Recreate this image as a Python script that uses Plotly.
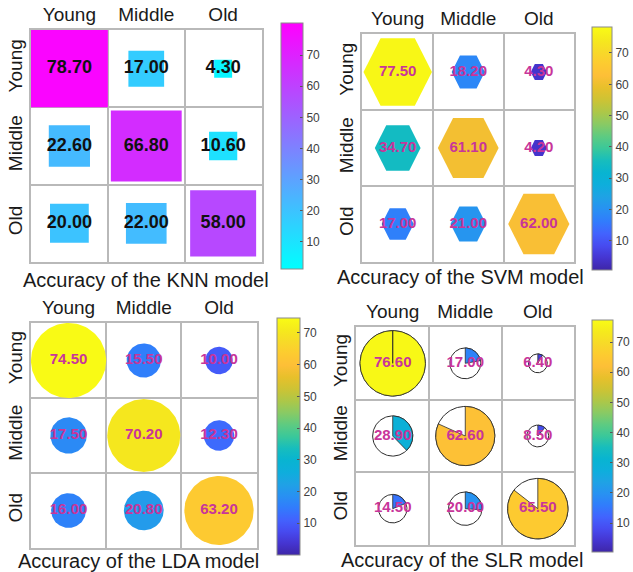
import numpy as np
import plotly.graph_objects as go
from plotly.colors import sample_colorscale

# ---- data -------------------------------------------------------------
classes = ["Young", "Middle", "Old"]

knn_acc = [[78.70, 17.00, 4.30],
           [22.60, 66.80, 10.60],
           [20.00, 22.00, 58.00]]
svm_acc = [[77.50, 18.20, 4.30],
           [34.70, 61.10, 4.20],
           [17.00, 21.00, 62.00]]
lda_acc = [[74.50, 15.50, 10.00],
           [17.50, 70.20, 12.30],
           [16.00, 20.80, 63.20]]
slr_acc = [[76.60, 17.00, 6.40],
           [28.90, 62.60, 8.50],
           [14.50, 20.00, 65.50]]

model_names = ["KNN", "SVM", "LDA", "SLR"]
colour_limits = [(1.3, 80.3), (0.7, 78.3), (0.0, 74.7), (0.4, 77.3)]
colorbar_ticks = [10, 20, 30, 40, 50, 60, 70]

# ---- colour maps ------------------------------------------------------
cool = [[0.0, "rgb(0,255,255)"], [1.0, "rgb(255,0,255)"]]
_parula_rgb = [
    (0.2422, 0.1504, 0.6603), (0.2691, 0.2089, 0.8204), (0.2795, 0.2942, 0.9401),
    (0.2575, 0.3886, 0.9946), (0.1918, 0.4877, 0.9872), (0.1588, 0.5674, 0.9477),
    (0.1231, 0.6337, 0.8968), (0.0561, 0.6818, 0.8647), (0.0300, 0.7050, 0.8200),
    (0.0900, 0.7400, 0.7400), (0.2278, 0.7826, 0.6047), (0.3667, 0.7980, 0.5048),
    (0.5380, 0.7916, 0.3910), (0.6787, 0.7791, 0.2819), (0.8020, 0.7653, 0.2022),
    (0.9058, 0.7548, 0.1690), (0.9914, 0.7507, 0.2146), (0.9932, 0.7961, 0.1901),
    (0.9678, 0.8565, 0.1567), (0.9589, 0.9175, 0.1080), (0.9769, 0.9839, 0.0805),
]
parula = [[i / (len(_parula_rgb) - 1),
           "rgb(%d,%d,%d)" % tuple(round(255 * c) for c in rgb)]
          for i, rgb in enumerate(_parula_rgb)]

W, H = 633, 572
FONT = "Liberation Sans, Arial, sans-serif"
GRID = "#b9b9b9"
NUM_MAGENTA = "#c8359a"

# layout of each panel in pixels: grid box, colour bar box, title centre
panels = [
    dict(z=knn_acc, shape="square", cmap=cool, tcol="#111111", tsize=18,
         box=(31, 262, 30, 262), cbar=(281, 303, 23, 269), title=(146, 280)),
    dict(z=svm_acc, shape="hexagon", cmap=parula, tcol=NUM_MAGENTA, tsize=15,
         box=(363, 575, 34, 262), cbar=(592, 612, 27, 270), title=(461, 277)),
    dict(z=lda_acc, shape="circle", cmap=parula, tcol=NUM_MAGENTA, tsize=15,
         box=(31, 257, 323, 548), cbar=(277, 300, 318, 555), title=(139, 561)),
    dict(z=slr_acc, shape="pie", cmap=parula, tcol=NUM_MAGENTA, tsize=15,
         box=(357, 575, 327, 545), cbar=(592, 613, 320, 552), title=(463, 560)),
]


def colour_of(v, cmap, lo, hi):
    t = min(max((v - lo) / (hi - lo), 0.0), 1.0)
    return sample_colorscale(cmap, [t])[0]


def outline(kind, cx, cy, s):
    """Closed outline of a glyph of relative size s centred on a cell."""
    if kind == "square":
        h = 0.5 * s
        return ([cx - h, cx + h, cx + h, cx - h, cx - h],
                [cy - h, cy - h, cy + h, cy + h, cy - h])
    if kind == "hexagon":
        a = np.deg2rad(np.arange(0, 361, 60))
        return cx + 0.485 * s * np.cos(a), cy + 0.514 * s * np.sin(a)
    r = 0.5 * s if kind == "circle" else 0.45 * s
    a = np.linspace(0, 2 * np.pi, 121)
    return cx + r * np.cos(a), cy + r * np.sin(a)


fig = go.Figure()
layout = dict(width=W, height=H, margin=dict(l=0, r=0, t=0, b=0),
              paper_bgcolor="white", plot_bgcolor="white",
              showlegend=False, font=dict(family=FONT, color="#1a1a1a"),
              annotations=[])

for k, (p, name, (lo, hi)) in enumerate(zip(panels, model_names, colour_limits)):
    idx = "" if k == 0 else str(k + 1)
    xa, ya = "x" + idx, "y" + idx
    x0, x1, y0, y1 = p["box"]
    z = np.array(p["z"], dtype=float)
    zmax = z.max()

    axis_common = dict(tickmode="array", tickvals=[1, 2, 3], ticktext=classes,
                       ticks="", showgrid=False, zeroline=False,
                       showline=True, mirror=True, linecolor=GRID, linewidth=1.5,
                       tickfont=dict(size=19, color="#1a1a1a", family=FONT),
                       minor=dict(tickmode="array", tickvals=[1.5, 2.5],
                                  showgrid=True, gridcolor=GRID, gridwidth=1.5,
                                  ticks=""),
                       fixedrange=True)
    layout["xaxis" + idx] = dict(axis_common, domain=[x0 / W, x1 / W],
                                 range=[0.5, 3.5], side="top", anchor=ya)
    layout["yaxis" + idx] = dict(axis_common, domain=[1 - y1 / H, 1 - y0 / H],
                                 range=[3.5, 0.5], tickangle=-90, anchor=xa)

    for i in range(3):
        for j in range(3):
            v = z[i, j]
            cx, cy = j + 1, i + 1
            s = np.sqrt(v / zmax)
            col = colour_of(v, p["cmap"], lo, hi)
            ox, oy = outline(p["shape"], cx, cy, s)
            if p["shape"] == "pie":
                # white disc with a dark rim, then the wedge v/max from 12 o'clock
                fig.add_trace(go.Scatter(
                    x=ox, y=oy, xaxis=xa, yaxis=ya, mode="lines",
                    fill="toself", fillcolor="white",
                    line=dict(color="#2b2b2b", width=1), hoverinfo="skip"))
                r = 0.45 * s
                t = np.linspace(0, 2 * np.pi * v / zmax, 121)
                wx = np.concatenate([[cx], cx + r * np.sin(t), [cx]])
                wy = np.concatenate([[cy], cy - r * np.cos(t), [cy]])
                fig.add_trace(go.Scatter(
                    x=wx, y=wy, xaxis=xa, yaxis=ya, mode="lines",
                    fill="toself", fillcolor=col,
                    line=dict(color="#2b2b2b", width=0.8), hoverinfo="skip"))
            else:
                fig.add_trace(go.Scatter(
                    x=ox, y=oy, xaxis=xa, yaxis=ya, mode="lines",
                    fill="toself", fillcolor=col,
                    line=dict(color=col, width=0), hoverinfo="skip"))

    # cell values
    cols = [j + 1 for i in range(3) for j in range(3)]
    rows = [i + 1 for i in range(3) for j in range(3)]
    vals = [z[i, j] for i in range(3) for j in range(3)]
    fig.add_trace(go.Scatter(
        x=cols, y=rows, xaxis=xa, yaxis=ya, mode="text",
        text=["<b>%.2f</b>" % v for v in vals],
        textfont=dict(size=p["tsize"], color=p["tcol"], family=FONT),
        hoverinfo="skip"))

    # colour bar of the panel
    bx0, bx1, by0, by1 = p["cbar"]
    fig.add_trace(go.Scatter(
        x=cols, y=rows, xaxis=xa, yaxis=ya, mode="markers",
        marker=dict(size=1, opacity=0, color=vals, colorscale=p["cmap"],
                    cmin=lo, cmax=hi, showscale=True,
                    colorbar=dict(x=bx0 / W, xanchor="left",
                                  y=1 - (by0 + by1) / 2 / H, yanchor="middle",
                                  len=by1 - by0, lenmode="pixels",
                                  thickness=bx1 - bx0, thicknessmode="pixels",
                                  xpad=0, ypad=0,
                                  outlinewidth=1, outlinecolor="#8a8a8a",
                                  tickmode="array", tickvals=colorbar_ticks,
                                  ticks="inside", ticklen=3, tickwidth=1,
                                  tickcolor="#555555",
                                  tickfont=dict(size=12, color="#404040",
                                                family=FONT))),
        hoverinfo="skip"))

    tx, ty = p["title"]
    layout["annotations"].append(dict(
        text="Accuracy of the %s model" % name, xref="paper", yref="paper",
        x=tx / W, y=1 - ty / H, xanchor="center", yanchor="middle",
        showarrow=False, font=dict(size=20, color="#1a1a1a", family=FONT)))

fig.update_layout(**layout)
fig.write_html("out.html")
